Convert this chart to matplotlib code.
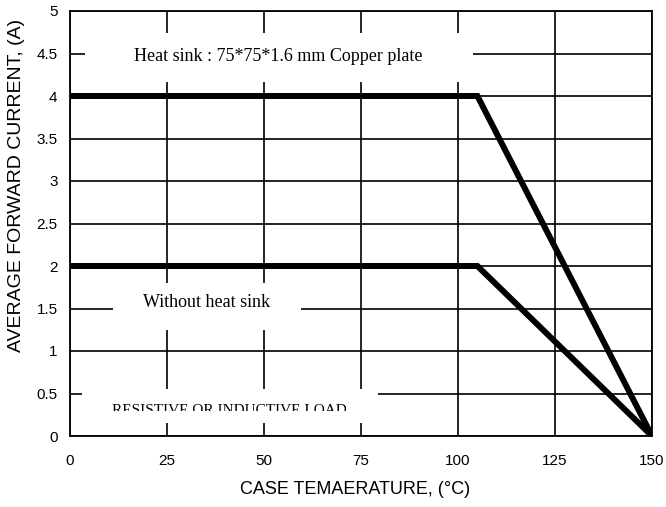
import matplotlib
matplotlib.use("Agg")
import matplotlib.pyplot as plt
from matplotlib.patches import Rectangle

# Data
temp_with_sink = [0, 105, 150]
current_with_sink = [4, 4, 0]
temp_without_sink = [0, 105, 150]
current_without_sink = [2, 2, 0]

x_ticks = [0, 25, 50, 75, 100, 125, 150]
y_ticks = [0, 0.5, 1, 1.5, 2, 2.5, 3, 3.5, 4, 4.5, 5]
y_tick_labels = ["0", "0.5", "1", "1.5", "2", "2.5", "3", "3.5", "4", "4.5", "5"]

label_heat = "Heat sink : 75*75*1.6 mm Copper plate"
label_noheat = "Without heat sink"
label_load = "RESISTIVE OR INDUCTIVE LOAD"

fig = plt.figure(figsize=(6.66, 5.07), dpi=100)
ax = fig.add_axes([70/666, 71/507, 582/666, 425/507])

ax.set_xlim(0, 150)
ax.set_ylim(0, 5)
ax.set_xticks(x_ticks)
ax.set_xticklabels([str(t) for t in x_ticks])
ax.set_yticks(y_ticks)
ax.set_yticklabels(y_tick_labels)
ax.tick_params(axis="both", length=0, labelsize=11, colors="black",
               labelfontfamily="Liberation Sans")
ax.tick_params(axis="x", pad=13)
ax.tick_params(axis="y", pad=9)

ax.grid(True, color="black", linewidth=1.2, zorder=1)
ax.set_axisbelow(True)
for s in ax.spines.values():
    s.set_linewidth(1.3)
    s.set_color("black")

# white label boxes
boxes = [((3.9, 4.165), 100.0, 0.575),
         ((11.1, 1.25), 48.4, 0.55),
         ((3.1, 0.153), 76.3, 0.40)]
for (x0, y0), w, h in boxes:
    ax.add_patch(Rectangle((x0, y0), w, h, facecolor="white",
                           edgecolor="none", zorder=2))

ax.plot(temp_with_sink, current_with_sink, color="black", linewidth=4.3,
        solid_joinstyle="miter", solid_capstyle="butt", zorder=3)
ax.plot(temp_without_sink, current_without_sink, color="black", linewidth=4.3,
        solid_joinstyle="miter", solid_capstyle="butt", zorder=3)

ax.text(53.6, 4.41, label_heat, family="Liberation Serif", fontsize=13,
        ha="center", va="baseline", zorder=4)
ax.text(35.3, 1.517, label_noheat, family="Liberation Serif", fontsize=13,
        ha="center", va="baseline", zorder=4)
t = ax.text(41.1, 0.259, label_load, family="Liberation Serif", fontsize=11,
            ha="center", va="baseline", zorder=4)
clip = Rectangle((0, 0.294), 150, 1.0, transform=ax.transData)
t.set_clip_on(True)
t.set_clip_path(clip)

ax.set_xlabel("CASE TEMAERATURE, (°C)", family="Liberation Sans",
              fontsize=13)
ax.xaxis.set_label_coords(0.4905, -0.105)
ax.set_ylabel("AVERAGE FORWARD CURRENT, (A)", family="Liberation Sans",
              fontsize=14)
ax.yaxis.set_label_coords(-0.078, 0.59)

fig.savefig("out.png", dpi=100)
